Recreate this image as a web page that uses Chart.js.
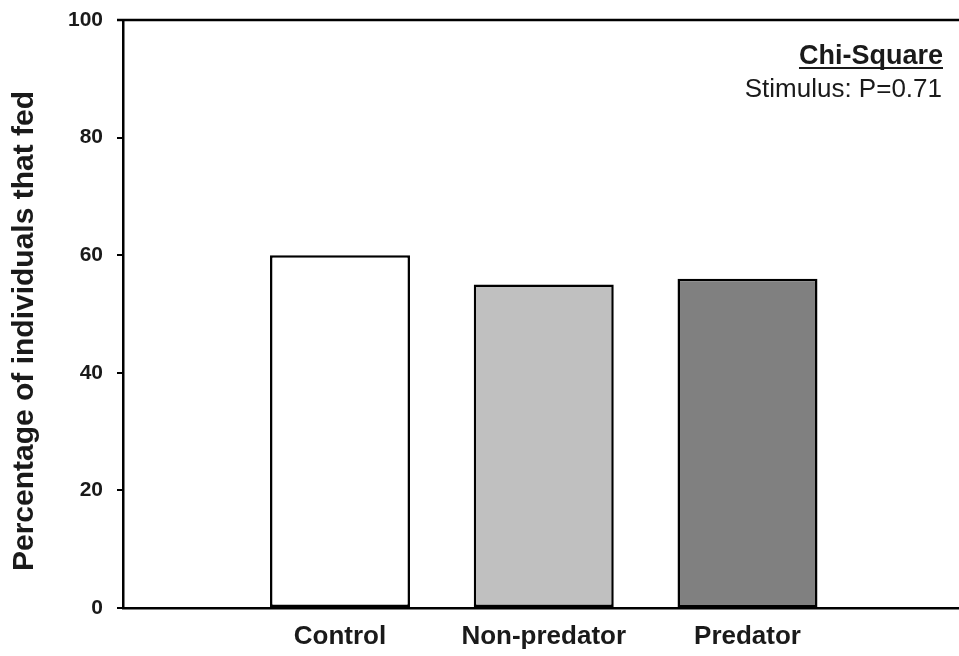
<!DOCTYPE html>
<html>
<head>
<meta charset="utf-8">
<script src="https://cdn.jsdelivr.net/npm/chart.js@4"></script>
<style>
  html, body { margin: 0; padding: 0; background: #fff; }
  #wrap { width: 959px; height: 656px; position: relative; }
</style>
</head>
<body>
<div id="wrap"><canvas id="chart"></canvas></div>
<script>
const categories = ['Control', 'Non-predator', 'Predator']
const fedPercent = [60, 55, 56]
const barColors = ['#ffffff', '#c0c0c0', '#808080']
const yTitle = 'Percentage of individuals that fed'
const statTitle = 'Chi-Square'
const statLine = 'Stimulus: P=0.71'

const FONT = "'Liberation Sans', Arial, sans-serif"

// top frame line, rotated y title and the stats note
const extras = {
  id: 'extras',
  afterDraw(chart) {
    const { ctx, chartArea } = chart
    ctx.save()
    ctx.strokeStyle = '#000'
    ctx.lineWidth = 2.5
    ctx.beginPath()
    ctx.moveTo(chartArea.left - 6, chartArea.top)
    ctx.lineTo(chartArea.right, chartArea.top)
    ctx.stroke()

    ctx.fillStyle = '#1a1a1a'
    ctx.save()
    ctx.translate(25, 331)
    ctx.rotate(-Math.PI / 2)
    ctx.font = 'bold 30px ' + FONT
    ctx.textAlign = 'center'
    ctx.textBaseline = 'middle'
    ctx.fillText(yTitle, 0, 0)
    ctx.restore()

    ctx.textAlign = 'right'
    ctx.textBaseline = 'alphabetic'
    ctx.font = 'bold 27px ' + FONT
    ctx.fillText(statTitle, 943, 64)
    const w = ctx.measureText(statTitle).width
    ctx.fillRect(943 - w, 67, w, 2)
    ctx.font = '26px ' + FONT
    ctx.fillText(statLine, 942, 97)
    ctx.restore()
  }
}

new Chart(document.getElementById('chart'), {
  type: 'bar',
  data: {
    datasets: [{
      data: fedPercent.map((v, i) => ({ x: i + 1, y: v })),
      backgroundColor: barColors,
      borderColor: '#000',
      borderWidth: 2.5,
      borderSkipped: false,
      barPercentage: 0.687,
      categoryPercentage: 1
    }]
  },
  options: {
    responsive: true,
    maintainAspectRatio: false,
    animation: false,
    layout: { padding: { top: 20, right: 0, left: 0, bottom: 0 } },
    plugins: { legend: { display: false }, tooltip: { enabled: false } },
    scales: {
      x: {
        type: 'linear',
        offset: false,
        min: -0.065,
        max: 4.038,
        afterBuildTicks: (scale) => {
          scale.ticks = categories.map((c, i) => ({ value: i + 1 }))
        },
        afterFit: (scale) => { scale.height = 48 },
        grid: { display: false, drawTicks: false, offset: false },
        border: { display: true, color: '#000', width: 2.5 },
        ticks: {
          padding: 13,
          color: '#1a1a1a',
          font: { family: FONT, size: 26, weight: 'bold' },
          callback: (v) => categories[v - 1] || ''
        }
      },
      y: {
        min: 0,
        max: 100,
        afterFit: (scale) => {
          scale.width = 123
          scale.paddingTop = 0
          scale.paddingBottom = 0
        },
        grid: { drawOnChartArea: false, drawTicks: true, tickLength: 6, color: '#000', lineWidth: 2 },
        border: { display: true, color: '#000', width: 2.5 },
        ticks: {
          stepSize: 20,
          padding: 14,
          color: '#1a1a1a',
          font: { family: FONT, size: 21, weight: 'bold' }
        }
      }
    }
  },
  plugins: [extras]
})
</script>
</body>
</html>
